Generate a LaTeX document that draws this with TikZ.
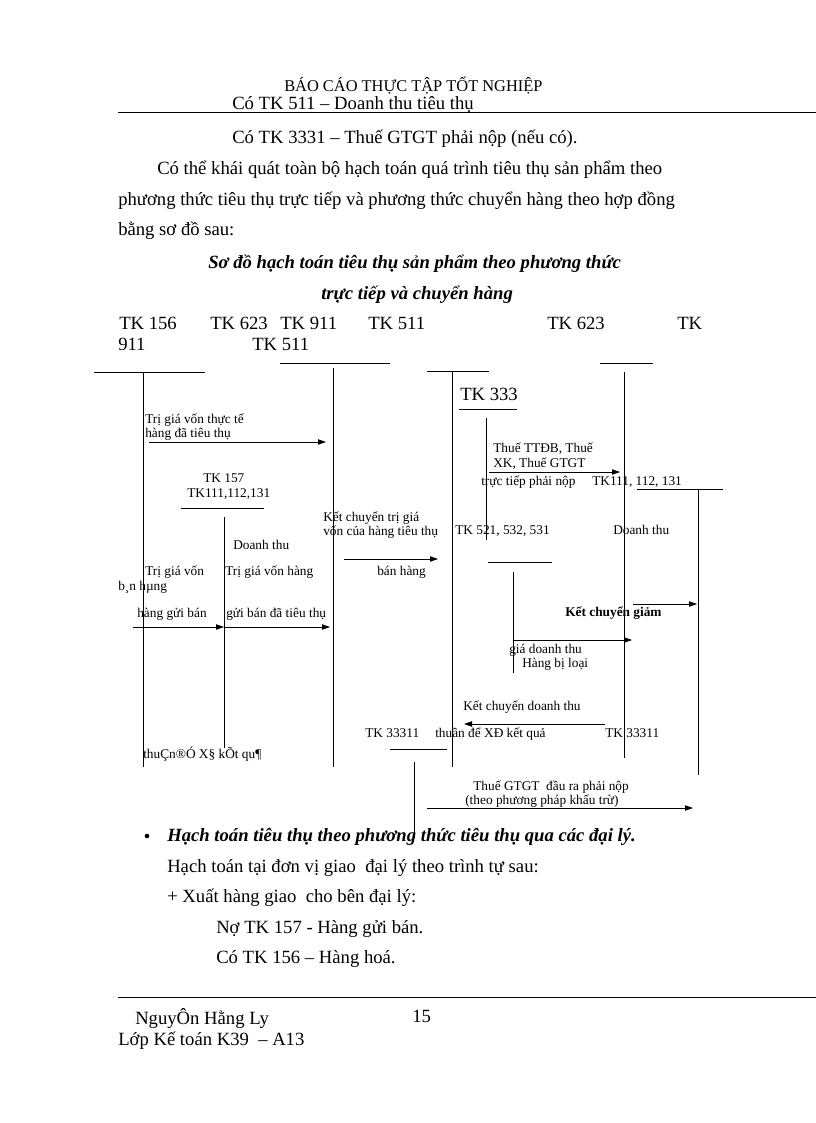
\documentclass[tikz,border=0pt]{standalone}
\usepackage{fontspec}
\setmainfont{Liberation Serif}
\usetikzlibrary{arrows.meta}

\tikzset{
  body/.style={anchor=base west, inner sep=0pt, font=\fontsize{14}{16}\selectfont},
  small/.style={anchor=base west, inner sep=0pt, font=\fontsize{10}{12}\selectfont},
  bolditalic/.style={body, font=\fontsize{14}{16}\selectfont\bfseries\itshape},
  bar/.style={line width=0.6pt},
  flow/.style={line width=0.6pt, -{Triangle[length=6pt,width=4pt]}},
}

\begin{document}
\begin{tikzpicture}[x=0.75pt,y=-0.75pt]
    \useasboundingbox (0,0) rectangle (816,1123);

    % page head
    \node[body, font=\fontsize{12.3}{14}\selectfont] (head) at (284,92) {BÁO CÁO THỰC TẬP TỐT NGHIỆP};
    \coordinate (headL) at (118,112);
    \coordinate (headR) at (816,112);
    \draw[line width=0.5pt] (headL) -- (headR);

    \node[body] (co511) at (232,110) {Có TK 511 – Doanh thu tiêu thụ};
    \node[body] (co3331) at (232,144) {Có TK 3331 – Thuế GTGT phải nộp (nếu có).};
    \node[body] (par1) at (157,175) {Có thể khái quát toàn bộ hạch toán quá trình tiêu thụ sản phẩm theo};
    \node[body] (par2) at (118,205) {phương thức tiêu thụ trực tiếp và phương thức chuyển hàng theo hợp đồng};
    \node[body] (par3) at (118,236) {bằng sơ đồ sau:};
    \node[bolditalic] (title1) at (208,268) {Sơ đồ hạch toán tiêu thụ sản phẩm theo phương thức};
    \node[bolditalic] (title2) at (321,299) {trực tiếp và chuyển hàng};

    % account names
    \node[body] (n156) at (119,329) {TK 156};
    \node[body] (n623a) at (210,329) {TK 623};
    \node[body] (n911) at (280,329) {TK 911};
    \node[body] (n511) at (368,329) {TK 511};
    \node[body] (n623b) at (547,329) {TK 623};
    \node[body] (nTK) at (677,329) {TK};
    \node[body] (n911b) at (118,350) {911};
    \node[body] (n511b) at (252,350) {TK 511};
    \node[body] (n333) at (460,400) {TK 333};

    % T accounts
    \coordinate (a156L) at (94,372);   \coordinate (a156R) at (205,372);
    \coordinate (a156T) at (143,372);  \coordinate (a156B) at (143,767);
    \coordinate (a911L) at (280,363);  \coordinate (a911R) at (390,363);
    \coordinate (a911T) at (333,368);  \coordinate (a911B) at (333,767);
    \coordinate (a511L) at (427,371);  \coordinate (a511R) at (489,371);
    \coordinate (a511T) at (452,372);  \coordinate (a511B) at (452,767);
    \coordinate (a333L) at (459,409);  \coordinate (a333R) at (517,409);
    \coordinate (a333T) at (486,418);  \coordinate (a333B) at (486,540);
    \coordinate (a623L) at (600,363);  \coordinate (a623R) at (653,363);
    \coordinate (a623T) at (624,372);  \coordinate (a623B) at (624,758);
    \coordinate (a111L) at (637,489);  \coordinate (a111R) at (723,489);
    \coordinate (a111T) at (698,490);  \coordinate (a111B) at (698,775);
    \coordinate (a157L) at (181,508);  \coordinate (a157R) at (264,508);
    \coordinate (a157T) at (224,517);  \coordinate (a157B) at (224,748);
    \coordinate (a521L) at (488,562);  \coordinate (a521R) at (552,562);
    \coordinate (a521T) at (513,572);  \coordinate (a521B) at (513,673);
    \coordinate (a3311L) at (390,749); \coordinate (a3311R) at (447,749);
    \coordinate (a3311T) at (414,762); \coordinate (a3311B) at (414,838);

    \foreach \acc in {156,911,511,333,623,111,157,521,3311} {
        \draw[bar] (a\acc L) -- (a\acc R);
        \draw[bar] (a\acc T) -- (a\acc B);
    }

    % labels
    \node[small] (l1a) at (145,423) {Trị giá vốn thực tế};
    \node[small] (l1b) at (145,437) {hàng đã tiêu thụ};
    \node[small] (l157) at (203,482) {TK 157};
    \node[small] (l111a) at (187,497) {TK111,112,131};
    \node[small] (l2a) at (233,549) {Doanh thu};
    \node[small] (l2b) at (145,575) {Trị giá vốn};
    \node[small] (l2c) at (225,575) {Trị giá vốn hàng};
    \node[small] (l2d) at (118,590) {b¸n hµng};
    \node[small] (l2e) at (137,617) {hàng gửi bán};
    \node[small] (l2f) at (226,617) {gửi bán đã tiêu thụ};
    \node[small] (l2g) at (143,758) {thuÇn®Ó X§ kÕt qu¶};
    \node[small] (l3a) at (323,521) {Kết chuyển trị giá};
    \node[small] (l3b) at (323,535) {vốn của hàng tiêu thụ};
    \node[small] (l3c) at (377,575) {bán hàng};
    \node[small] (l4a) at (493,452) {Thuế TTĐB, Thuế};
    \node[small] (l4b) at (493,467) {XK, Thuế GTGT};
    \node[small] (l4c) at (481,485) {trực tiếp phải nộp};
    \node[small] (l111b) at (592,485) {TK111, 112, 131};
    \node[small] (l521) at (455,534) {TK 521, 532, 531};
    \node[small] (l5a) at (613,534) {Doanh thu};
    \node[small, font=\fontsize{10}{12}\selectfont\bfseries] (l5b) at (565,616) {Kết chuyển giảm};
    \node[small] (l6a) at (509,653) {giá doanh thu};
    \node[small] (l6b) at (522,667) {Hàng bị loại};
    \node[small] (l7a) at (463,710) {Kết chuyển doanh thu};
    \node[small] (l7b) at (435,737) {thuần để XĐ kết quả};
    \node[small] (l3311a) at (365,737) {TK 33311};
    \node[small] (l3311b) at (605,737) {TK 33311};
    \node[small] (l8a) at (473,790) {Thuế GTGT\ \ đầu ra phải nộp};
    \node[small] (l8b) at (465,804) {(theo phương pháp khấu trừ)};

    % flows
    \coordinate (f1s) at (149,442);  \coordinate (f1e) at (326,442);
    \coordinate (f2s) at (133,627);  \coordinate (f2m) at (224,627);
    \coordinate (f2e) at (330,627);
    \coordinate (f3s) at (344,559);  \coordinate (f3e) at (438,559);
    \coordinate (f4s) at (489,472);  \coordinate (f4e) at (620,472);
    \coordinate (f5s) at (633,604);  \coordinate (f5e) at (697,604);
    \coordinate (f6s) at (513,640);  \coordinate (f6e) at (632,640);
    \coordinate (f7s) at (605,724);  \coordinate (f7e) at (464,724);
    \coordinate (f8s) at (427,808);  \coordinate (f8e) at (693,808);

    \draw[flow] (f1s) -- (f1e);
    \draw[flow] (f2s) -- (f2m);
    \draw[flow] (f2m) -- (f2e);
    \draw[flow] (f3s) -- (f3e);
    \draw[flow] (f4s) -- (f4e);
    \draw[flow] (f5s) -- (f5e);
    \draw[flow] (f6s) -- (f6e);
    \draw[flow] (f7s) -- (f7e);
    \draw[flow] (f8s) -- (f8e);

    % text below
    \node[circle, fill, inner sep=0pt, minimum size=3.5pt] (dot) at (147,836) {};
    \node[bolditalic] (sec) at (167,841) {Hạch toán tiêu thụ theo phương thức tiêu thụ qua các đại lý.};
    \node[body] (b1) at (167,872) {Hạch toán tại đơn vị giao\ \ đại lý theo trình tự sau:};
    \node[body] (b2) at (167,902) {+ Xuất hàng giao\ \ cho bên đại lý:};
    \node[body] (b3) at (216,933) {Nợ TK 157 - Hàng gửi bán.};
    \node[body] (b4) at (216,963) {Có TK 156 – Hàng hoá.};

    % page foot
    \coordinate (footL) at (118,997);
    \coordinate (footR) at (816,997);
    \draw[line width=0.5pt] (footL) -- (footR);
    \node[body] (page) at (412,1022) {15};
    \node[body] (name) at (135,1024) {NguyÔn Hằng Ly};
    \node[body] (class) at (118,1045) {Lớp Kế toán K39\ \ – A13};
\end{tikzpicture}
\end{document}
